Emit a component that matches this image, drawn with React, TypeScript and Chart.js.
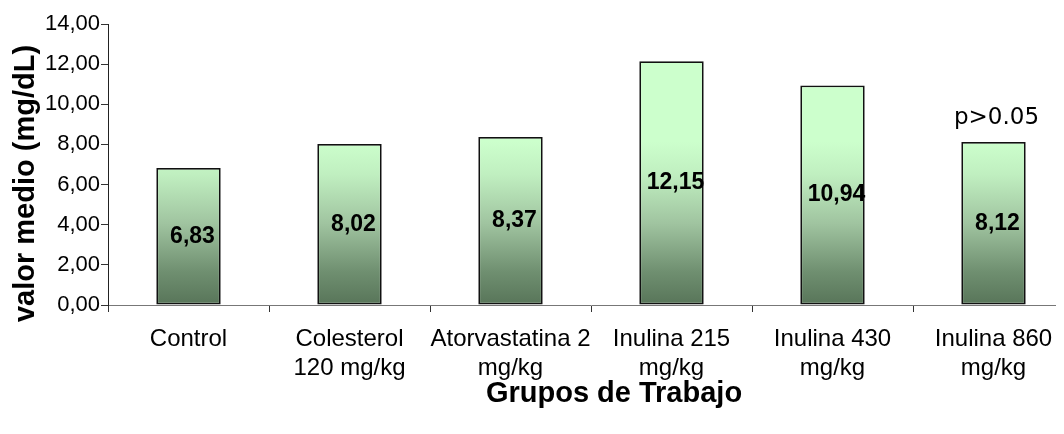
import React, { useEffect, useRef } from "react";
import { Chart, registerables } from "chart.js";

Chart.register(...registerables);

const categories: (string | string[])[] = [
  "Control",
  ["Colesterol", "120 mg/kg"],
  ["Atorvastatina 2", "mg/kg"],
  ["Inulina 215", "mg/kg"],
  ["Inulina 430", "mg/kg"],
  ["Inulina 860", "mg/kg"],
];
const values: number[] = [6.83, 8.02, 8.37, 12.15, 10.94, 8.12];
const notes: string[] = ["", "", "", "", "", "p>0.05"];
const yTickLabels: string[] = ["0,00", "2,00", "4,00", "6,00", "8,00", "10,00", "12,00", "14,00"];
const yTitle = "valor medio (mg/dL)";
const xTitle = "Grupos de Trabajo";

const FONT = "'Liberation Sans', Arial, sans-serif";

const labelsPlugin = {
  id: "customLabels",
  beforeDatasetsDraw(chart: any) {
    const ctx = chart.ctx;
    const meta = chart.getDatasetMeta(0);
    meta.data.forEach((bar: any) => {
      const top = bar.y;
      const bottom = bar.base;
      if (!isFinite(top) || !isFinite(bottom)) return;
      const g = ctx.createLinearGradient(0, top, 0, bottom);
      g.addColorStop(0, "#ccffcc");
      g.addColorStop(0.2, "#c0efc0");
      g.addColorStop(0.5, "#a0c4a0");
      g.addColorStop(0.8, "#6f8f70");
      g.addColorStop(1, "#587559");
      bar.options.backgroundColor = g;
    });
  },
  afterDatasetsDraw(chart: any) {
    const ctx = chart.ctx;
    const meta = chart.getDatasetMeta(0);
    ctx.save();
    meta.data.forEach((bar: any, i: number) => {
      const mid = (bar.y + bar.base) / 2;
      ctx.font = `bold 23px ${FONT}`;
      ctx.fillStyle = "#000";
      ctx.textAlign = "center";
      ctx.textBaseline = "middle";
      ctx.fillText(values[i].toFixed(2).replace(".", ","), bar.x + 4, mid);
      if (notes[i]) {
        ctx.font = `23px 'DejaVu Sans', sans-serif`;
        ctx.fillText(notes[i], bar.x + 3, bar.y - 24);
      }
    });
    ctx.restore();
  },
  afterDraw(chart: any) {
    const ctx = chart.ctx;
    const area = chart.chartArea;
    ctx.save();
    ctx.fillStyle = "#000";
    ctx.font = `bold 29px ${FONT}`;
    ctx.textAlign = "center";
    ctx.textBaseline = "middle";
    ctx.fillText(xTitle, (area.left + area.right) / 2 + 23, 386);
    ctx.translate(18, (area.top + area.bottom) / 2 + 19);
    ctx.rotate(-Math.PI / 2);
    ctx.fillText(yTitle, 0, 0);
    ctx.restore();
  },
};

export default function App() {
  const ref = useRef<HTMLCanvasElement | null>(null);
  useEffect(() => {
    if (!ref.current) return;
    const chart = new Chart(ref.current, {
      type: "bar",
      data: {
        labels: categories,
        datasets: [
          {
            data: values,
            backgroundColor: "#9fc09f",
            borderColor: "#111",
            borderWidth: 1.8,
            borderSkipped: false,
            barPercentage: 0.4,
            categoryPercentage: 1,
          },
        ],
      },
      options: {
        responsive: false,
        animation: false,
        devicePixelRatio: 1,
        layout: { padding: { left: 0, right: 4, top: 16, bottom: 0 } },
        plugins: {
          legend: { display: false },
          tooltip: { enabled: false },
        },
        scales: {
          x: {
            offset: true,
            grid: {
              offset: true,
              drawOnChartArea: false,
              drawTicks: true,
              tickLength: 7,
              color: "#333",
            },
            border: { display: true, color: "#777", width: 1 },
            ticks: {
              color: "#000",
              font: { family: FONT, size: 24, lineHeight: 1.24 },
              padding: 12,
              maxRotation: 0,
              autoSkip: false,
            },
            afterFit: (s: any) => {
              s.height = 121;
            },
          },
          y: {
            min: 0,
            max: 14,
            grid: {
              drawOnChartArea: false,
              drawTicks: true,
              tickLength: 7,
              color: "#333",
            },
            border: { display: true, color: "#222", width: 1 },
            ticks: {
              stepSize: 2,
              color: "#000",
              font: { family: FONT, size: 22 },
              padding: 1,
              callback: (_v: any, i: number) => yTickLabels[i],
            },
            afterFit: (s: any) => {
              s.width = 100;
            },
          },
        },
      },
      plugins: [labelsPlugin],
    });
    return () => chart.destroy();
  }, []);
  return (
    <div style={{ width: 1056, height: 418, overflow: "hidden", position: "relative" }}>
      <canvas ref={ref} width={1070} height={418} style={{ display: "block", width: 1070, height: 418 }} />
    </div>
  );
}
